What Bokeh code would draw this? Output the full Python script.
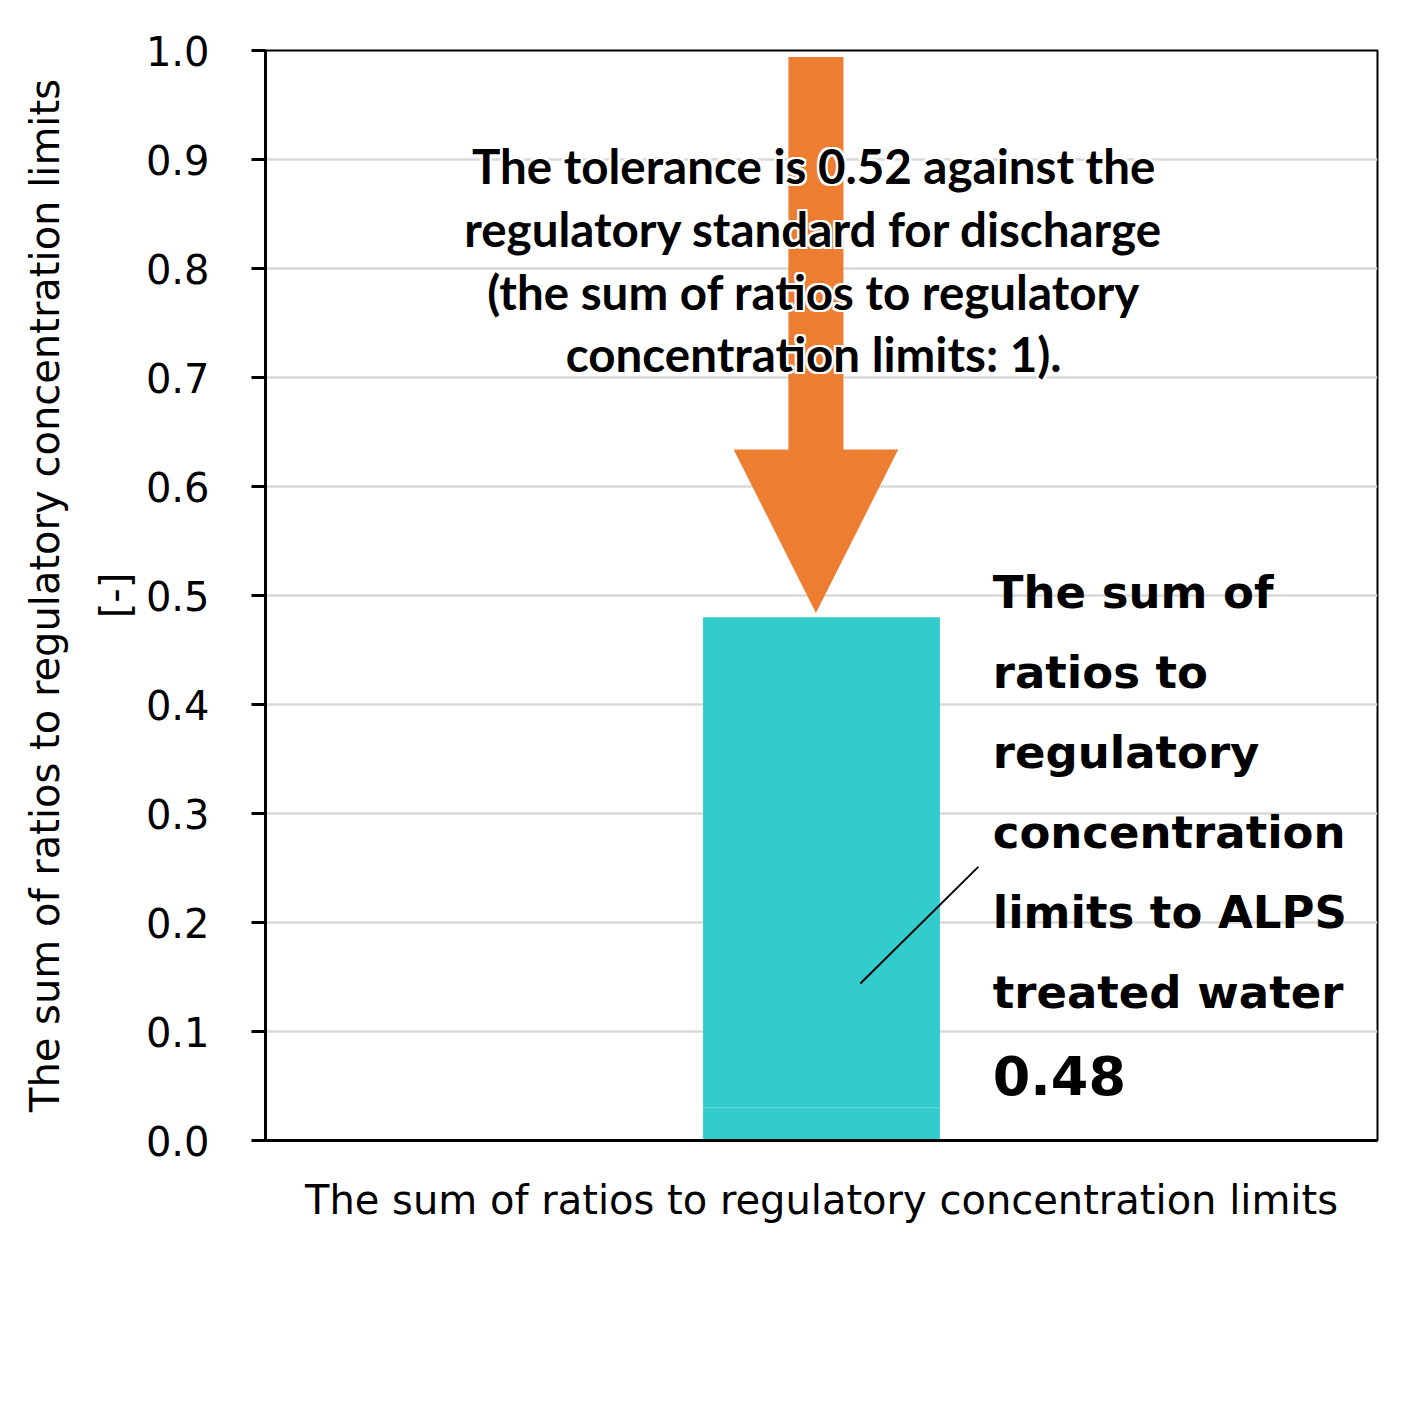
import math
from bokeh.plotting import figure
from bokeh.models import Label, FixedTicker, PrintfTickFormatter, Range1d, Title
from bokeh.embed import file_html
from bokeh.resources import INLINE

# ---- data ----
categories = ["The sum of ratios to regulatory concentration limits"]
segment_low = [0.03]
segment_high = [0.45]
total_ratio = [0.48]
regulatory_limit = 1.0
tolerance = 0.52
y_ticks = [0.0, 0.1, 0.2, 0.3, 0.4, 0.5, 0.6, 0.7, 0.8, 0.9, 1.0]
y_title = "The sum of ratios to regulatory concentration limits"
y_unit = "[-]"
tolerance_text = ("The tolerance is 0.52 against the\nregulatory standard for discharge\n"
                  "(the sum of ratios to regulatory\nconcentration limits: 1).")
bar_text = "The sum of\nratios to\nregulatory\nconcentration\nlimits to ALPS\ntreated water"
bar_value_text = "0.48"

BAR = "#33CCCC"
ORANGE = "#ED7D31"
FONT = "DejaVu Sans"

p = figure(frame_width=1112, frame_height=1090,
           min_border_left=265, min_border_right=30, min_border_top=50, min_border_bottom=250,
           x_range=Range1d(0, 1), y_range=Range1d(0, 1.0),
           output_backend="svg", toolbar_location=None)
p.background_fill_color = "white"
p.border_fill_color = "white"
p.outline_line_color = "black"
p.outline_line_width = 2

# grid
p.xgrid.grid_line_color = None
p.ygrid.grid_line_color = "#D9D9D9"
p.ygrid.grid_line_width = 2.5
p.ygrid.ticker = FixedTicker(ticks=y_ticks)

# y axis
p.yaxis.ticker = FixedTicker(ticks=y_ticks)
p.yaxis.formatter = PrintfTickFormatter(format="%.1f")
p.yaxis.axis_line_width = 3
p.yaxis.major_tick_line_width = 3
p.yaxis.major_tick_out = 14
p.yaxis.major_tick_in = 0
p.yaxis.minor_tick_line_color = None
p.yaxis.major_label_text_font = FONT
p.yaxis.major_label_text_font_size = "40px"
p.yaxis.major_label_text_color = "black"
p.yaxis.major_label_standoff = 42

# y axis title (two lines, as stacked left titles)
p.add_layout(Title(text=y_unit, align="center", text_font=FONT, text_font_size="40px",
                   text_font_style="normal", text_color="black", standoff=9), "left")
p.add_layout(Title(text=y_title, align="center", text_font=FONT, text_font_size="40px",
                   text_font_style="normal", text_color="black", standoff=35), "left")

# x axis
p.xaxis.ticker = FixedTicker(ticks=[])
p.xaxis.axis_line_width = 3
p.xaxis.major_tick_out = 0
p.xaxis.major_tick_in = 0
p.xaxis.minor_tick_line_color = None
p.xaxis.major_label_standoff = 0
p.xaxis.axis_label = categories[0]
p.xaxis.axis_label_text_font = FONT
p.xaxis.axis_label_text_font_size = "40px"
p.xaxis.axis_label_text_font_style = "normal"
p.xaxis.axis_label_text_color = "black"
p.xaxis.axis_label_standoff = 36

# bar (stacked two segments)
bar_x = 0.5
bar_w = 0.213
p.vbar(x=[bar_x], bottom=[0], top=segment_low, width=bar_w, fill_color=BAR, line_color=None)
p.vbar(x=[bar_x], bottom=segment_low, top=[a + b for a, b in zip(segment_low, segment_high)],
       width=bar_w, fill_color=BAR, line_color=None)
p.segment(x0=[bar_x - bar_w / 2], x1=[bar_x + bar_w / 2], y0=segment_low, y1=segment_low,
          line_color="#5CD6D6", line_width=1.5)

# arrow showing tolerance: from the limit down to the value
cx = 0.495
shaft_w = 0.0495
head_w = 0.148
top = regulatory_limit - 0.006
tip = total_ratio[0] + 0.004
shoulder = tip + 0.15
xs = [cx - shaft_w / 2, cx + shaft_w / 2, cx + shaft_w / 2, cx + head_w / 2, cx,
      cx - head_w / 2, cx - shaft_w / 2]
ys = [top, top, shoulder, shoulder, tip, shoulder, shoulder]
p.patch(xs, ys, fill_color=ORANGE, line_color=None)

# leader line
p.line([0.535, 0.641], [0.144, 0.251], line_color="black", line_width=2)

# tolerance text with white glow
tx, ty = 0.493, 0.808
tol_style = dict(text_font="Lato", text_font_style="bold", text_font_size="47.5px",
                 text_align="center", text_baseline="middle", text_line_height=1.1)
for dx, dy in [(-2, 0), (2, 0), (0, -2), (0, 2), (-2, -2), (2, 2), (-2, 2), (2, -2)]:
    p.add_layout(Label(x=tx, y=ty, x_offset=dx, y_offset=dy, text=tolerance_text,
                       text_color="white", **tol_style))
p.add_layout(Label(x=tx, y=ty, text=tolerance_text, text_color="black", **tol_style))

# bar label
p.add_layout(Label(x=0.654, y=0.319, text=bar_text, text_font=FONT, text_font_style="bold",
                   text_font_size="45px", text_color="black", text_align="left",
                   text_baseline="middle", text_line_height=1.51))
p.add_layout(Label(x=0.654, y=0.0596, text=bar_value_text, text_font=FONT, text_font_style="bold",
                   text_font_size="54px", text_color="black", text_align="left",
                   text_baseline="middle"))

open("out.html", "w").write(file_html(p, INLINE))
